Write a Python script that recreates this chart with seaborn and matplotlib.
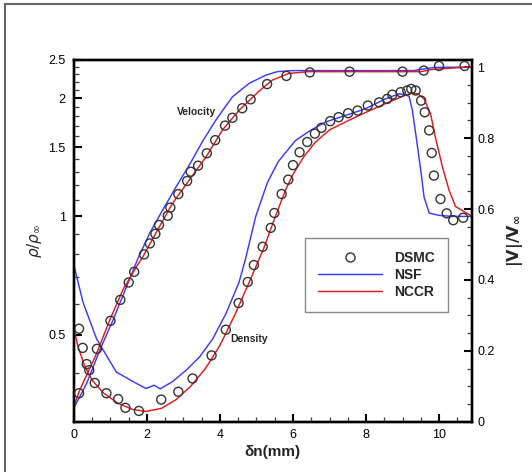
import numpy as np
import pandas as pd
import matplotlib
matplotlib.use("Agg")
import matplotlib.pyplot as plt
from matplotlib.lines import Line2D
from matplotlib.patches import Rectangle
from matplotlib.ticker import FixedLocator, FixedFormatter, NullFormatter
import seaborn as sns

# ---------------- data ----------------
dsmc_vel_x = [0.14, 0.42, 0.63, 1.00, 1.27, 1.50, 1.65, 1.92, 2.08, 2.23, 2.33, 2.57, 2.64,
              2.86, 3.10, 3.20, 3.40, 3.64, 3.87, 4.14, 4.34, 4.61, 4.84, 5.29, 5.82, 6.46,
              7.55, 9.00, 9.58, 10.00, 10.70]
dsmc_vel_y = [0.081, 0.146, 0.206, 0.285, 0.344, 0.393, 0.423, 0.472, 0.503, 0.530, 0.555,
              0.581, 0.604, 0.642, 0.679, 0.705, 0.722, 0.757, 0.794, 0.835, 0.857, 0.884,
              0.909, 0.952, 0.975, 0.985, 0.987, 0.987, 0.990, 1.003, 1.003]

dsmc_rho_x = [0.14, 0.24, 0.35, 0.57, 0.89, 1.21, 1.41, 1.78, 2.39, 2.86, 3.25, 3.77, 4.16,
              4.51, 4.76, 4.93, 5.17, 5.39, 5.49, 5.69, 5.87, 6.00, 6.18, 6.39, 6.60, 6.78,
              7.02, 7.25, 7.51, 7.77, 8.05, 8.36, 8.58, 8.72, 8.95, 9.13, 9.24, 9.36, 9.51,
              9.61, 9.73, 9.80, 9.86, 10.04, 10.21, 10.39, 10.66]
dsmc_rho_y = [0.518, 0.463, 0.421, 0.377, 0.355, 0.343, 0.326, 0.320, 0.342, 0.358, 0.387,
              0.443, 0.515, 0.602, 0.681, 0.752, 0.837, 0.935, 1.02, 1.14, 1.24, 1.35, 1.456,
              1.546, 1.624, 1.68, 1.747, 1.788, 1.83, 1.859, 1.914, 1.95, 1.99, 2.04, 2.07,
              2.09, 2.11, 2.09, 1.97, 1.84, 1.655, 1.45, 1.27, 1.107, 1.018, 0.978, 0.992]

nsf_rho_x = [0.0, 0.25, 0.62, 1.16, 1.62, 1.97, 2.20, 2.36, 2.70, 3.07, 3.44, 3.80, 4.16,
             4.52, 4.70, 4.98, 5.30, 5.60, 6.07, 6.48, 6.89, 7.44, 7.98, 8.53, 8.90, 9.08,
             9.18, 9.27, 9.40, 9.50, 9.59, 9.73, 10.0, 10.36, 10.9]
nsf_rho_y = [0.75, 0.604, 0.488, 0.402, 0.38, 0.365, 0.372, 0.364, 0.38, 0.406, 0.439, 0.488,
             0.565, 0.679, 0.78, 1.0, 1.22, 1.38, 1.56, 1.655, 1.738, 1.806, 1.878, 1.99,
             2.05, 2.04, 2.02, 1.86, 1.53, 1.31, 1.12, 1.02, 1.006, 1.0, 1.0]

nccr_rho_x = [0.0, 0.1, 0.3, 0.5, 0.8, 1.2, 1.6, 1.97, 2.4, 2.8, 3.2, 3.6, 4.0, 4.4, 4.8,
              5.2, 5.5, 5.8, 6.0, 6.3, 6.6, 7.0, 7.5, 8.0, 8.5, 9.0, 9.26, 9.42, 9.59, 9.77,
              9.90, 10.09, 10.27, 10.45, 10.83, 10.9]
nccr_rho_y = [0.52, 0.47, 0.415, 0.383, 0.356, 0.335, 0.323, 0.319, 0.325, 0.342, 0.37,
              0.41, 0.47, 0.56, 0.68, 0.83, 0.99, 1.17, 1.28, 1.42, 1.54, 1.66, 1.75, 1.84,
              1.93, 2.02, 2.06, 2.05, 1.99, 1.82, 1.59, 1.34, 1.17, 1.06, 1.01, 1.0]

nsf_vel_x = [0.0, 0.35, 0.71, 1.07, 1.44, 1.75, 2.07, 2.43, 2.80, 3.16, 3.52, 3.89, 4.34,
             4.80, 5.25, 5.57, 5.98, 9.3, 9.6, 9.9, 10.9]
nsf_vel_y = [0.04, 0.109, 0.203, 0.287, 0.381, 0.46, 0.531, 0.597, 0.663, 0.724, 0.79,
             0.851, 0.916, 0.954, 0.977, 0.987, 0.99, 0.99, 0.995, 0.999, 1.0]

nccr_vel_x = [0.0, 0.16, 0.62, 0.98, 1.34, 1.71, 1.89, 2.34, 2.70, 3.16, 3.62, 4.07, 4.53,
              5.07, 5.43, 5.89, 6.43, 9.5, 9.8, 10.5, 10.9]
nccr_vel_y = [0.045, 0.09, 0.193, 0.287, 0.372, 0.437, 0.466, 0.55, 0.616, 0.682, 0.747,
              0.823, 0.879, 0.932, 0.963, 0.982, 0.987, 0.987, 0.993, 0.998, 1.0]

rho_major = [0.5, 1, 1.5, 2, 2.5]
rho_major_labels = ["0.5", "1", "1.5", "2", "2.5"]
rho_minor = [0.3, 0.4, 0.6, 0.7, 0.8, 0.9, 1.1, 1.2, 1.3, 1.4, 1.6, 1.7, 1.8, 1.9,
             2.1, 2.2, 2.3, 2.4]
vel_major = [0, 0.2, 0.4, 0.6, 0.8, 1.0]
vel_major_labels = ["0", "0.2", "0.4", "0.6", "0.8", "1"]
x_major = [0, 2, 4, 6, 8, 10]

# ---------------- style ----------------
sns.set_theme(style="ticks")
plt.rcParams["font.family"] = ["Liberation Sans", "DejaVu Sans"]
plt.rcParams["mathtext.fontset"] = "dejavusans"

BLUE = "#3a3aff"
RED = "#e01b1b"
CIRC = "#333333"

fig = plt.figure(figsize=(5.32, 4.72), dpi=100)
fig.patch.set_facecolor("white")
ax = fig.add_axes([0.139, 0.106, 0.748, 0.767])
ax.set_yscale("log")
ax2 = ax.twinx()

lw = 1.05
sns.lineplot(x=nsf_rho_x, y=nsf_rho_y, ax=ax, color=BLUE, lw=lw, estimator=None, sort=False)
sns.lineplot(x=nccr_rho_x, y=nccr_rho_y, ax=ax, color=RED, lw=lw, estimator=None, sort=False)
sns.scatterplot(x=dsmc_rho_x, y=dsmc_rho_y, ax=ax, marker="o", s=42, facecolors="none",
                edgecolor=CIRC, linewidth=1.0, zorder=3)

sns.lineplot(x=nsf_vel_x, y=nsf_vel_y, ax=ax2, color=BLUE, lw=lw, estimator=None, sort=False)
sns.lineplot(x=nccr_vel_x, y=nccr_vel_y, ax=ax2, color=RED, lw=lw, estimator=None, sort=False)
sns.scatterplot(x=dsmc_vel_x, y=dsmc_vel_y, ax=ax2, marker="o", s=42, facecolors="none",
                edgecolor=CIRC, linewidth=1.0, zorder=3)

ax.set_xlim(0, 10.9)
ax.set_ylim(0.3, 2.5)
ax2.set_ylim(0, 1.02)

ax.yaxis.set_major_locator(FixedLocator(rho_major))
ax.yaxis.set_major_formatter(FixedFormatter(rho_major_labels))
ax.yaxis.set_minor_locator(FixedLocator(rho_minor))
ax.yaxis.set_minor_formatter(NullFormatter())
ax.xaxis.set_major_locator(FixedLocator(x_major))
ax.xaxis.set_minor_locator(FixedLocator(list(np.arange(0.5, 10.9, 0.5))))
ax2.yaxis.set_major_locator(FixedLocator(vel_major))
ax2.yaxis.set_major_formatter(FixedFormatter(vel_major_labels))
ax2.yaxis.set_minor_locator(FixedLocator(list(np.arange(0.05, 1.0, 0.05))))

for a in (ax, ax2):
    for sp in a.spines.values():
        sp.set_linewidth(1.7)
        sp.set_color("black")
    a.tick_params(which="major", direction="in", length=6, width=1.5, labelsize=9,
                  colors="black")
    a.tick_params(which="minor", direction="in", length=3.5, width=0.9, colors="#444444")
ax.tick_params(axis="y", which="both", left=True, right=False, pad=6)
ax.tick_params(axis="x", which="both", bottom=True, top=False, pad=5)
ax2.tick_params(axis="y", which="both", right=True, left=False, pad=4)

ax.set_xlabel("δn(mm)", fontsize=11, fontweight="bold", labelpad=3)
ax.set_ylabel(r"$\rho/\rho_{\infty}$", fontsize=11, labelpad=3)
ax2.set_ylabel(r"$\mathbf{|V|/V_{\infty}}$", fontsize=11.5, labelpad=7)

ax.text(3.36, 1.84, "Velocity", fontsize=7.5, fontweight="bold", ha="center", va="center")
ax.text(4.8, 0.489, "Density", fontsize=7.5, fontweight="bold", ha="center", va="center")

handles = [
    Line2D([], [], ls="none", marker="o", mfc="none", mec=CIRC, ms=6.5, mew=1.0),
    Line2D([], [], color=BLUE, lw=lw),
    Line2D([], [], color=RED, lw=lw),
]
leg = ax2.legend(handles, ["DSMC", "NSF", "NCCR"], loc="upper left",
                 bbox_to_anchor=(0.58, 0.508), frameon=True, fancybox=False,
                 prop={"weight": "bold", "size": 10}, handlelength=4.6,
                 handletextpad=0.9, labelspacing=0.2, borderpad=0.95, borderaxespad=0)
leg.get_frame().set_edgecolor("#888888")
leg.get_frame().set_linewidth(1.0)
leg.get_frame().set_alpha(1)

# outer frame of the figure
fig.patches.append(Rectangle((5 / 532, -0.05), 1.2, 1.05 - 4 / 472, transform=fig.transFigure,
                             fill=False, edgecolor="#666666", lw=1.5, zorder=0))

fig.savefig("out.png", dpi=100, facecolor="white")
